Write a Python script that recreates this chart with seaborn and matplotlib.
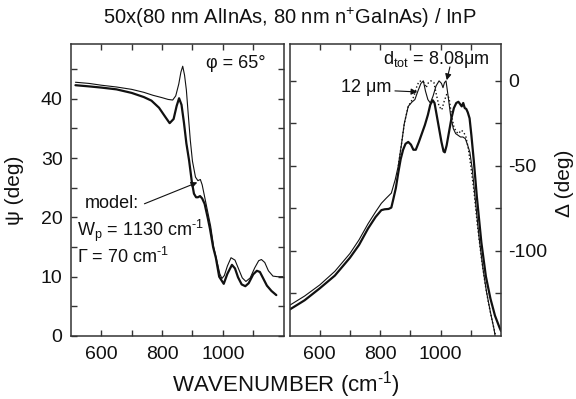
import numpy as np
import pandas as pd
import matplotlib
matplotlib.use("Agg")
import matplotlib.pyplot as plt
import seaborn as sns
from matplotlib.ticker import FixedLocator

# ---------------- data ----------------
# Left panel: psi (deg)
psi_exp_x = [515, 560, 600, 650, 700, 740, 765, 790, 810, 825, 838, 848, 856, 864, 872, 880,
             889, 898, 905, 912, 918, 925, 932, 940, 950, 958, 968, 977, 988, 1003, 1015, 1030,
             1040, 1050, 1062, 1074, 1085, 1100, 1112, 1122, 1132, 1145, 1160, 1176]
psi_exp_y = [42.3, 42.1, 41.9, 41.6, 41.0, 40.3, 39.7, 38.5, 37.0, 35.9, 36.6, 38.8, 40.1, 39.0, 36.0, 32.5,
             29.6, 26.0, 24.0, 23.4, 23.4, 23.6, 23.2, 22.3, 20.0, 18.0, 15.0, 13.2, 10.0, 8.8, 10.5, 12.0,
             11.4, 9.9, 8.7, 8.4, 8.9, 10.4, 11.0, 10.8, 9.8, 8.5, 7.6, 6.9]

psi_mod_x = [515, 560, 600, 650, 700, 740, 770, 800, 820, 835, 845, 855, 862, 868, 874, 880,
             886, 893, 900, 910, 918, 926, 932, 940, 950, 960, 970, 983, 990, 997, 1005, 1015,
             1027, 1040, 1052, 1064, 1076, 1090, 1105, 1118, 1127, 1138, 1150, 1165, 1180, 1198]
psi_mod_y = [42.8, 42.6, 42.3, 42.0, 41.6, 41.1, 40.6, 40.2, 39.9, 39.8, 40.5, 42.5, 44.5, 45.5, 44.0, 41.5,
             37.5, 33.0, 29.5, 26.8, 26.2, 26.4, 25.5, 23.5, 21.0, 18.5, 15.0, 12.1, 10.5, 9.7, 10.2, 11.8,
             13.2, 12.8, 11.3, 9.8, 9.2, 9.8, 11.5, 12.7, 12.9, 12.4, 11.0, 10.1, 10.0, 10.0]

# Right panel: Delta (deg)
del_exp_x = [500, 550, 600, 650, 700, 730, 760, 785, 804, 815, 828, 837, 843, 852, 860, 868, 876, 884,
             893, 902, 910, 918, 928, 938, 948, 958, 966, 974, 980, 987, 995, 1003, 1010, 1014, 1020,
             1028, 1036, 1044, 1052, 1059, 1064, 1070, 1075, 1080, 1085, 1090, 1096, 1102, 1110, 1120,
             1135, 1150, 1165, 1180, 1195, 1200]
del_exp_y = [-134.5, -129, -122, -114.5, -104, -96.5, -86.8, -80, -76, -75.5, -75.3, -74.5, -70, -63, -54, -46, -40.5, -37,
             -35.9, -37.5, -40.5, -40.5, -36, -31, -26, -20, -14, -11.4, -13, -20, -28, -36, -41.5, -42, -38,
             -30, -22, -16, -13, -12.3, -13.5, -15, -13, -16, -16.5, -18.5, -22, -32, -47, -68,
             -95, -115, -128, -138, -145, -147]

del_mod_x = [500, 550, 600, 650, 700, 730, 760, 785, 804, 820, 837, 850, 860, 870, 880, 893, 905, 915,
             925, 935, 943, 950, 958, 966, 975, 985, 995, 1003, 1008, 1013, 1018, 1025, 1033, 1042, 1050,
             1058, 1066, 1074, 1082, 1090, 1097, 1105, 1115, 1128, 1140, 1152, 1165, 1177, 1185]
del_mod_y = [-132, -126.5, -120, -112, -101.5, -93.5, -84, -77, -72, -69, -66, -58, -50, -38, -25, -15, -12.5, -11,
             -6, -1.5, 0, -6, -11, -13, -9, -3, 0, -1.5, -4, -1, 0, -9, -20, -28, -31,
             -32, -33, -33, -34, -38, -42, -52, -70, -93, -110, -124, -136, -146, -155]

del_12_x = [860, 870, 880, 893, 903, 912, 920, 928, 936, 945, 952, 960, 968, 978, 986, 995, 1004, 1012,
            1020, 1028, 1036, 1044, 1052, 1060, 1068, 1076, 1084, 1092, 1100, 1110, 1122, 1135, 1148,
            1160, 1172, 1185]
del_12_y = [-50, -38, -25, -15, -12, -9, -4, -0.5, 0, -1, -4, -1, 0, -1, -8, -15, -17, -12,
            -8, -10, -20, -27, -30, -31, -29, -30, -33, -40, -50, -64, -85, -104, -120,
            -132, -142, -152]

x_major = [600, 800, 1000]
x_minor = [700, 900, 1100]
psi_ticks = [0, 10, 20, 30, 40]
psi_minor = [5, 15, 25, 35, 45]
del_ticks = [0, -50, -100]
del_minor = [-25, -75, -125]

# ---------------- styling ----------------
sns.set_theme(style="ticks")
plt.rcParams['font.family'] = ['Liberation Sans', 'DejaVu Sans']
plt.rcParams['mathtext.fontset'] = 'custom'
plt.rcParams['mathtext.rm'] = 'Liberation Sans'
plt.rcParams['mathtext.it'] = 'Liberation Sans:italic'
plt.rcParams['mathtext.bf'] = 'Liberation Sans:bold'

W, H = 576, 399
fig = plt.figure(figsize=(W / 100, H / 100), dpi=100)
fig.patch.set_facecolor('white')

bottom = 1 - 336 / H
height = (336 - 44.3) / H
ax1 = fig.add_axes([70.9 / W, bottom, (283.6 - 70.9) / W, height])
ax2 = fig.add_axes([289.5 / W, bottom, (501 - 289.5) / W, height])

ink = '#111111'
spine_col = '#333333'

psi_exp = pd.DataFrame({'x': psi_exp_x, 'y': psi_exp_y})
psi_mod = pd.DataFrame({'x': psi_mod_x, 'y': psi_mod_y})
del_exp = pd.DataFrame({'x': del_exp_x, 'y': del_exp_y})
del_mod = pd.DataFrame({'x': del_mod_x, 'y': del_mod_y})
del_12 = pd.DataFrame({'x': del_12_x, 'y': del_12_y})

sns.lineplot(data=psi_mod, x='x', y='y', ax=ax1, color=ink, lw=0.8, sort=False)
sns.lineplot(data=psi_exp, x='x', y='y', ax=ax1, color=ink, lw=1.6, sort=False)

sns.lineplot(data=del_12, x='x', y='y', ax=ax2, color=ink, lw=1.0, ls=':', sort=False)
sns.lineplot(data=del_mod, x='x', y='y', ax=ax2, color=ink, lw=0.8, sort=False)
sns.lineplot(data=del_exp, x='x', y='y', ax=ax2, color=ink, lw=1.6, sort=False)

tick_fs = 14
for ax in (ax1, ax2):
    ax.set_xlim(500, 1200)
    ax.xaxis.set_major_locator(FixedLocator(x_major))
    ax.xaxis.set_minor_locator(FixedLocator(x_minor))
    ax.set_xlabel('')
    ax.set_ylabel('')
    for s in ax.spines.values():
        s.set_visible(True)
        s.set_color(spine_col)
        s.set_linewidth(1.1)
    ax.tick_params(which='both', direction='in', top=True, bottom=True, left=True, right=True,
                   length=4, width=1.0, color=spine_col, labelsize=tick_fs, labelcolor=ink)
    ax.tick_params(axis='x', pad=7)
    ax.set_facecolor('white')

ax1.set_ylim(0, 49.2)
ax1.yaxis.set_major_locator(FixedLocator(psi_ticks))
ax1.yaxis.set_minor_locator(FixedLocator(psi_minor))
ax1.tick_params(axis='y', labelleft=True, labelright=False, pad=6)

ax2.set_ylim(-150, 21.5)
ax2.yaxis.set_major_locator(FixedLocator(del_ticks))
ax2.yaxis.set_minor_locator(FixedLocator(del_minor))
ax2.tick_params(axis='y', labelleft=False, labelright=True, pad=5)
ax2.set_yticklabels([str(t) for t in del_ticks])

# ---------------- text ----------------
ann_fs = 13
inv = 'cm$^{\u2010\\mathrm{1}}$'
ax1.text(1044, 46.0, 'φ = 65°', ha='center', va='center', fontsize=ann_fs, color=ink)
ax1.text(547, 22.3, 'model:', ha='left', va='center', fontsize=ann_fs, color=ink)
ax1.text(520, 17.8, 'W$_{\\mathrm{p}}$ = 1130 ' + inv, ha='left', va='center', fontsize=ann_fs, color=ink)
ax1.text(520, 13.3, 'Γ = 70 ' + inv, ha='left', va='center', fontsize=ann_fs, color=ink)
ax1.annotate('', xy=(916, 25.9), xytext=(742, 22.3),
             arrowprops=dict(arrowstyle='-|>', lw=0.8, color=ink, mutation_scale=9, shrinkA=0, shrinkB=0))

ax2.text(987, 12.8, 'd$_{\\mathrm{tot}}$ = 8.08μm', ha='center', va='center', fontsize=ann_fs, color=ink)
ax2.annotate('', xy=(1020.5, 0.4), xytext=(1031, 8.2),
             arrowprops=dict(arrowstyle='-|>', lw=0.8, color=ink, mutation_scale=9, shrinkA=0, shrinkB=0))
ax2.text(836, -4, '12 μm', ha='right', va='center', fontsize=ann_fs, color=ink)
ax2.annotate('', xy=(923, -6.5), xytext=(849, -5.9),
             arrowprops=dict(arrowstyle='-|>', lw=0.8, color=ink, mutation_scale=9, shrinkA=0, shrinkB=0))

fig.text(0.503, 0.956, '50x(80 nm AlInAs, 80 nm n$^{+}$GaInAs) / InP', ha='center', va='center',
         fontsize=14.5, color=ink)
fig.text(0.496, 0.035, 'WAVENUMBER (' + inv + ')', ha='center', va='center', fontsize=16, color=ink)
fig.text(15 / W, 1 - 190 / H, 'ψ (deg)', rotation=90, ha='center', va='center', fontsize=15, color=ink)
fig.text(565 / W, 1 - 183 / H, 'Δ (deg)', rotation=90, ha='center', va='center', fontsize=15, color=ink)

fig.savefig('out.png', dpi=100, facecolor='white')
